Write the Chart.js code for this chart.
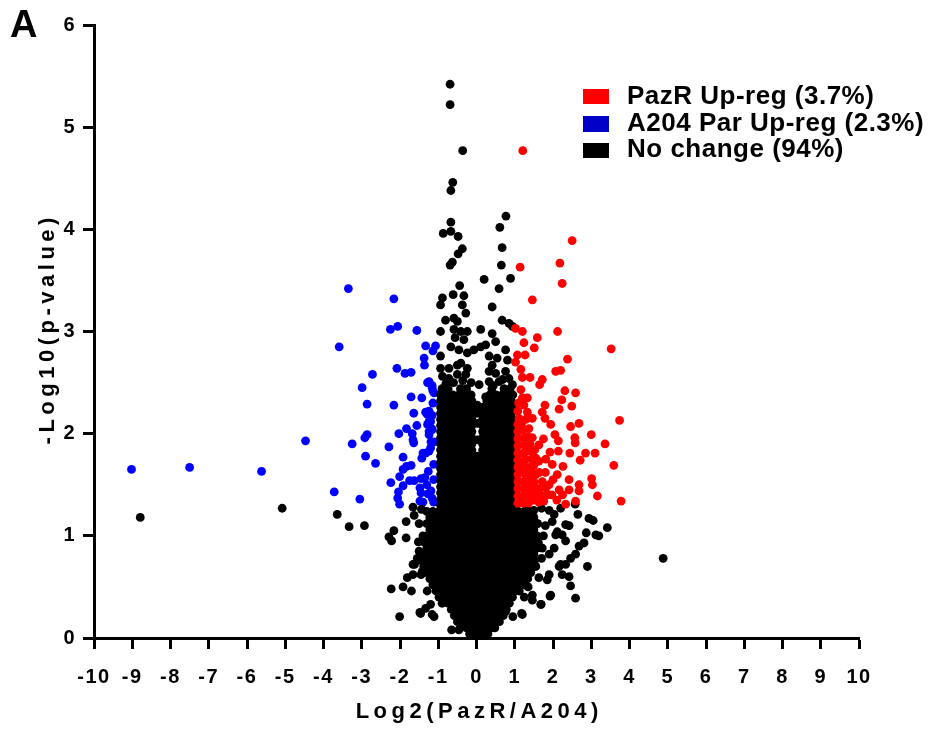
<!DOCTYPE html>
<html><head><meta charset="utf-8">
<script src="https://cdn.jsdelivr.net/npm/chart.js@4.4.1/dist/chart.umd.min.js"></script>
<style>
html,body{margin:0;padding:0;background:#fff;}
#wrap{position:relative;width:933px;height:731px;overflow:hidden;background:#fff;}
#c{position:absolute;left:0;top:0;}
.t{position:absolute;font-family:'Liberation Sans',Arial,sans-serif;font-weight:bold;color:#000;white-space:nowrap;}
#panel{left:10px;top:5px;font-size:38px;line-height:38px;}
#xt{left:277px;width:400px;top:700px;font-size:22px;line-height:22px;letter-spacing:4.5px;text-align:center;padding-left:4.5px;box-sizing:border-box;}
#yt{left:-153px;width:400px;top:320px;height:22px;font-size:22px;line-height:22px;letter-spacing:4.5px;text-align:center;padding-left:4.5px;box-sizing:border-box;transform:rotate(-90deg);transform-origin:50% 50%;}
.sw{position:absolute;left:582.5px;width:26.5px;height:15.5px;}
.lt{left:627px;font-size:26px;line-height:26px;letter-spacing:0.5px;}
</style></head>
<body>
<div id="wrap">
<canvas id="c" width="933" height="731"></canvas>
<div class="t" id="panel">A</div>
<div class="t" id="xt">Log2(PazR/A204)</div>
<div class="t" id="yt">-Log10(p-value)</div>
<div class="sw" style="top:88.5px;background:#ff0000"></div>
<div class="sw" style="top:116px;background:#0000c8"></div>
<div class="sw" style="top:142.5px;background:#000000"></div>
<div class="t lt" style="top:82.3px">PazR Up-reg (3.7%)</div>
<div class="t lt" style="top:109px">A204 Par Up-reg (2.3%)</div>
<div class="t lt" style="top:135.3px">No change (94%)</div>
</div>
<script>
const xTickValues = [-10,-9,-8,-7,-6,-5,-4,-3,-2,-1,0,1,2,3,4,5,6,7,8,9,10];
const yTickValues = [0,1,2,3,4,5,6];

// PazR up-regulated (red)
const redPoints = [
[1.21,4.77],[1.14,3.63],[2.50,3.89],[2.18,3.67],[2.24,3.47],[1.46,3.31],[2.12,3.00],[3.52,2.83],[1.02,3.03],[1.20,3.00],
[1.59,2.94],[1.24,2.89],[1.51,2.84],[1.07,2.77],[1.27,2.77],[1.02,2.70],[2.38,2.73],[2.07,2.61],[2.20,2.62],[1.16,2.63],
[1.20,2.55],[1.40,2.55],[1.72,2.53],[1.65,2.48],[1.16,2.43],[1.20,2.35],[2.31,2.42],[2.59,2.40],[2.23,2.33],[2.16,2.24],
[2.49,2.27],[1.33,2.35],[1.24,2.28],[1.33,2.21],[1.79,2.28],[1.72,2.21],[1.94,2.09],[1.79,2.15],[3.74,2.13],[2.68,2.10],
[2.46,2.07],[1.11,2.15],[1.29,2.14],[1.46,2.15],[1.37,2.05],[1.24,1.96],[1.46,1.96],[1.63,1.89],[1.42,1.83],[2.05,1.99],
[2.14,1.93],[2.57,1.96],[2.58,1.91],[3.00,1.99],[3.36,1.90],[2.14,1.83],[2.44,1.81],[2.85,1.81],[3.10,1.81],[2.71,1.74],
[3.59,1.69],[2.26,1.68],[1.98,1.70],[1.81,1.75],[1.63,1.73],[2.42,1.55],[2.68,1.50],[3.01,1.56],[3.03,1.50],[3.16,1.39],
[3.78,1.34],[2.11,1.60],[1.90,1.50],[2.16,1.45],[1.97,1.40],[2.10,1.35],[2.42,1.45],[2.68,1.44],[2.33,1.31],[2.59,1.34],
[1.55,1.60],[1.72,1.53],[1.55,1.47],[1.68,1.40],[1.37,1.40],[1.50,1.35],[1.63,1.33],[1.20,1.37],[1.29,1.47],[1.37,1.57],
[1.20,1.63],[1.55,1.76],[1.37,1.83],
[1.08,1.32],[1.22,1.32],[1.36,1.32],[1.08,1.39],[1.22,1.39],[1.50,1.40],[1.08,1.46],[1.22,1.46],[1.42,1.46],[1.64,1.46],
[1.08,1.53],[1.22,1.53],[1.36,1.51],[1.50,1.53],[1.08,1.60],[1.28,1.60],[1.46,1.62],[1.64,1.62],[1.08,1.67],[1.22,1.69],
[1.36,1.67],[1.50,1.69],[1.08,1.74],[1.28,1.75],[1.44,1.75],[1.08,1.81],[1.22,1.81],[1.52,1.84],[1.08,1.88],[1.24,1.89],
[1.40,1.90],[1.08,1.95],[1.34,1.97],[1.08,2.02],[1.22,2.04],[1.08,2.09],[1.18,2.10],[1.08,2.22],[1.10,2.30],[1.80,1.62],
[1.86,1.40],[1.82,1.47],[1.76,1.34],[2.25,1.40],[2.00,1.55],[1.92,1.82],[1.75,1.95]
];

// A204 Par up-regulated (blue)
const bluePoints = [
[-3.35,3.42],[-2.16,3.32],[-2.25,3.02],[-2.06,3.05],[-1.56,3.01],[-3.59,2.85],[-1.33,2.86],[-1.07,2.86],[-1.14,2.81],[-1.37,2.74],
[-1.36,2.67],[-2.72,2.58],[-2.08,2.64],[-1.87,2.59],[-1.71,2.60],[-2.99,2.45],[-1.28,2.50],[-1.16,2.47],[-1.14,2.42],[-2.86,2.29],
[-2.16,2.28],[-1.71,2.36],[-1.43,2.35],[-1.64,2.20],[-1.33,2.21],[-1.24,2.12],[-1.16,2.18],[-1.56,2.08],[-1.83,2.05],[-2.03,2.00],
[-1.68,2.00],[-1.66,1.94],[-1.64,1.91],[-1.28,2.09],[-1.24,2.02],[-1.17,2.05],[-1.19,1.92],[-4.47,1.93],[-3.25,1.90],[-2.92,1.96],
[-2.86,1.99],[-2.29,1.87],[-1.92,1.77],[-2.90,1.78],[-2.64,1.71],[-1.71,1.69],[-1.43,1.76],[-1.40,1.81],[-1.24,1.83],[-1.92,1.65],
[-2.01,1.58],[-2.24,1.52],[-1.75,1.54],[-1.63,1.54],[-1.45,1.56],[-1.35,1.57],[-1.48,1.47],[-2.04,1.43],[-2.06,1.37],[-2.01,1.31],
[-1.48,1.34],[-1.26,1.63],[-1.19,1.44],[-1.16,1.37],[-9.02,1.65],[-7.50,1.67],[-5.62,1.63],[-3.72,1.43],[-3.05,1.36],[-1.24,2.51],
[-1.16,2.45],[-1.11,2.40],[-1.29,2.19],[-1.24,2.22],[-1.20,2.12],[-1.16,2.04],[-1.24,1.99],[-1.11,1.92],[-1.20,1.86],[-1.33,1.81],
[-1.83,1.68],[-1.92,1.49],[-1.45,1.42],[-1.27,1.41],[-1.12,1.33],[-1.40,1.33],[-1.12,1.55],[-1.12,1.70],[-1.14,2.30],[-1.30,1.50]
];

// No change (black) - scattered points
const blackPoints = [
[-0.69,5.42],[-0.69,5.22],[-0.36,4.77],[-0.62,4.46],[-0.67,4.38],[-0.67,4.07],[-0.87,3.96],[-0.67,3.98],[-0.48,3.93],[-0.37,3.81],
[-0.48,3.76],[-0.69,3.65],[-0.63,3.68],[0.77,4.13],[0.61,4.02],[0.67,3.82],[0.65,3.65],
[-0.44,3.45],[0.20,3.51],[0.89,3.52],[0.59,3.42],[-0.61,3.36],[-0.33,3.35],[-0.89,3.33],[-0.94,3.26],[-0.37,3.26],[-0.28,3.18],
[0.41,3.24],[-0.81,3.11],[-0.59,3.13],[-0.50,3.10],[0.67,3.11],[0.85,3.08],[0.94,3.05],
[-0.94,3.00],[-0.59,3.02],[-0.41,3.00],[-0.24,3.00],[-0.56,2.94],[-0.33,2.92],[-0.67,2.85],[-0.46,2.82],[0.11,3.02],[0.41,2.98],
[0.50,2.90],[0.24,2.87],[0.11,2.85],[0.76,2.82],[-0.07,2.82],[-0.24,2.79],[-0.94,2.76],[0.33,2.76],[0.54,2.74],[0.81,2.72],[0.41,2.67],
[-0.94,2.64],[-0.72,2.64],[-0.50,2.67],[-0.41,2.69],[-0.24,2.64],[-0.28,2.58],[-0.50,2.58],[-0.72,2.54],[-0.89,2.56],[0.33,2.61],
[0.50,2.59],[0.76,2.61],[0.85,2.54],[0.59,2.51],[0.33,2.51],[0.94,2.48],[0.07,2.48],[0.24,2.36],[0.02,2.28],
[-0.60,2.50],[-0.36,2.52],[-0.14,2.50],[0.44,2.47],[0.68,2.53],[-0.80,2.49],[0.03,2.10],[0.04,1.94],
[-8.79,1.18],[-5.08,1.27],[-3.64,1.21],[-3.33,1.09],[-2.93,1.10],[-2.16,1.05],[-2.29,0.99],[-2.22,0.95],[-1.84,0.98],[-1.66,1.28],
[-1.63,1.20],[-1.84,1.14],[-1.66,0.72],[-1.81,0.59],[-1.92,0.50],[-2.23,0.48],[-1.70,0.46],[-2.01,0.21],[-1.48,0.25],[-1.11,0.21],
[-1.50,0.85],[-1.55,0.78],[-1.42,0.65],[-1.29,0.46],[-1.20,0.33],[-1.62,0.72],[-1.66,0.62],[-1.45,0.62],[-1.45,0.78],[-1.46,0.24],
[-1.33,0.29],[-1.16,0.23],[-0.65,0.08],[-0.46,0.08],
[2.58,1.31],[2.65,1.21],[2.94,1.17],[3.05,1.15],[3.42,1.08],[3.20,1.00],[3.12,1.01],[2.87,1.03],[2.33,1.11],[2.42,1.10],
[2.11,1.04],[2.24,1.01],[1.98,1.14],[2.03,1.21],[4.88,0.78],[2.81,0.93],[2.68,0.90],[2.59,0.82],[2.46,0.78],[2.33,0.72],
[2.20,0.72],[2.90,0.70],[2.16,0.70],[2.24,0.62],[2.42,0.60],[1.90,0.62],[1.85,0.57],[1.63,0.59],[2.46,0.51],[2.59,0.39],
[1.94,0.42],[1.68,0.33],[1.46,0.42],[1.46,0.37],[1.20,0.23],[2.03,0.88],[1.72,0.88],[2.07,1.01],[2.33,0.95],[1.90,0.82],
[1.18,0.24],[0.95,0.21],[0.76,0.26],[1.69,0.33],[1.92,0.41],
[1.30,1.25],[1.50,1.25],[1.70,1.27],[1.90,1.25],[2.20,1.27],[1.60,1.12],[1.80,1.10],[1.75,1.00],[1.62,0.93],[1.70,0.78],
[1.55,0.70],[1.35,0.50],[1.25,0.40],[-1.44,1.26],[-1.50,1.12],[-1.40,1.00],[-1.52,0.94]
];

// No change (black) - dense core, read row by row: [y, [x positions]]
const blackCoreRows = [
[0.04,[-0.18,-0.02,0.14,0.30]],
[0.10,[-0.42,-0.26,-0.10,0.06,0.22,0.38,0.48]],
[0.16,[-0.50,-0.34,-0.18,-0.02,0.14,0.30,0.46,0.60]],
[0.22,[-0.58,-0.42,-0.26,-0.10,0.06,0.22,0.38,0.54,0.70]],
[0.28,[-0.66,-0.50,-0.34,-0.18,-0.02,0.14,0.30,0.46,0.62,0.78]],
[0.34,[-0.90,-0.74,-0.58,-0.42,-0.26,-0.10,0.06,0.22,0.38,0.54,0.70,0.86]],
[0.40,[-0.98,-0.82,-0.66,-0.50,-0.34,-0.18,-0.02,0.14,0.30,0.46,0.62,0.78,0.94]],
[0.46,[-1.06,-0.90,-0.74,-0.58,-0.42,-0.26,-0.10,0.06,0.22,0.38,0.54,0.70,0.86,1.02,1.12]],
[0.52,[-1.14,-0.98,-0.82,-0.66,-0.50,-0.34,-0.18,-0.02,0.14,0.30,0.46,0.62,0.78,0.94,1.10,1.26]],
[0.58,[-1.22,-1.06,-0.90,-0.74,-0.58,-0.42,-0.26,-0.10,0.06,0.22,0.38,0.54,0.70,0.86,1.02,1.18,1.34]],
[0.64,[-1.30,-1.14,-0.98,-0.82,-0.66,-0.50,-0.34,-0.18,-0.02,0.14,0.30,0.46,0.62,0.78,0.94,1.10,1.26,1.42]],
[0.70,[-1.38,-1.22,-1.06,-0.90,-0.74,-0.58,-0.42,-0.26,-0.10,0.06,0.22,0.38,0.54,0.70,0.86,1.02,1.18,1.34,1.50]],
[0.76,[-1.46,-1.30,-1.14,-0.98,-0.82,-0.66,-0.50,-0.34,-0.18,-0.02,0.14,0.30,0.46,0.62,0.78,0.94,1.10,1.26,1.42,1.52]],
[0.82,[-1.38,-1.22,-1.06,-0.90,-0.74,-0.58,-0.42,-0.26,-0.10,0.06,0.22,0.38,0.54,0.70,0.86,1.02,1.18,1.34,1.50]],
[0.88,[-1.30,-1.14,-0.98,-0.82,-0.66,-0.50,-0.34,-0.18,-0.02,0.14,0.30,0.46,0.62,0.78,0.94,1.10,1.26,1.42,1.58]],
[0.94,[-1.38,-1.22,-1.06,-0.90,-0.74,-0.58,-0.42,-0.26,-0.10,0.06,0.22,0.38,0.54,0.70,0.86,1.02,1.18,1.34,1.50]],
[1.00,[-1.30,-1.14,-0.98,-0.82,-0.66,-0.50,-0.34,-0.18,-0.02,0.14,0.30,0.46,0.62,0.78,0.94,1.10,1.26,1.42,1.58]],
[1.06,[-1.22,-1.06,-0.90,-0.74,-0.58,-0.42,-0.26,-0.10,0.06,0.22,0.38,0.54,0.70,0.86,1.02,1.18,1.34,1.50]],
[1.12,[-1.30,-1.14,-0.98,-0.82,-0.66,-0.50,-0.34,-0.18,-0.02,0.14,0.30,0.46,0.62,0.78,0.94,1.10,1.26,1.42,1.58]],
[1.18,[-1.22,-1.06,-0.90,-0.74,-0.58,-0.42,-0.26,-0.10,0.06,0.22,0.38,0.54,0.70,0.86,1.02,1.18,1.34,1.50]],
[1.24,[-1.30,-1.14,-0.98,-0.82,-0.66,-0.50,-0.34,-0.18,-0.02,0.14,0.30,0.46,0.62,0.78,0.94,1.10,1.26,1.42]],
[1.30,[-0.94,-0.78,-0.62,-0.46,-0.30,-0.14,0.02,0.18,0.34,0.50,0.66,0.82,0.95]],
[1.36,[-0.94,-0.86,-0.70,-0.54,-0.38,-0.22,-0.06,0.10,0.26,0.42,0.58,0.74,0.90]],
[1.42,[-0.94,-0.78,-0.62,-0.46,-0.30,-0.14,0.02,0.18,0.34,0.50,0.66,0.82,0.95]],
[1.48,[-0.94,-0.86,-0.70,-0.54,-0.38,-0.22,-0.06,0.10,0.26,0.42,0.58,0.74,0.90]],
[1.54,[-0.94,-0.78,-0.62,-0.46,-0.30,-0.14,0.02,0.18,0.34,0.50,0.66,0.82,0.95]],
[1.60,[-0.94,-0.86,-0.70,-0.54,-0.38,-0.22,-0.06,0.10,0.26,0.42,0.58,0.74,0.90]],
[1.66,[-0.94,-0.78,-0.62,-0.46,-0.30,-0.14,0.02,0.18,0.34,0.50,0.66,0.82,0.95]],
[1.72,[-0.94,-0.86,-0.70,-0.54,-0.38,-0.22,-0.06,0.10,0.26,0.42,0.58,0.74,0.90]],
[1.78,[-0.94,-0.78,-0.62,-0.46,-0.30,-0.14,0.02,0.18,0.34,0.50,0.66,0.82,0.95]],
[1.84,[-0.94,-0.86,-0.70,-0.54,-0.38,-0.22,-0.12,0.16,0.27,0.43,0.59,0.75,0.91]],
[1.90,[-0.94,-0.78,-0.62,-0.46,-0.30,-0.12,0.16,0.35,0.51,0.67,0.83,0.95]],
[1.96,[-0.94,-0.86,-0.70,-0.54,-0.38,-0.22,-0.12,0.16,0.27,0.43,0.59,0.75,0.91]],
[2.02,[-0.94,-0.78,-0.62,-0.46,-0.30,-0.12,0.16,0.35,0.51,0.67,0.83,0.95]],
[2.08,[-0.94,-0.86,-0.70,-0.54,-0.38,-0.22,-0.12,0.16,0.27,0.43,0.59,0.75,0.91]],
[2.14,[-0.94,-0.78,-0.62,-0.46,-0.30,-0.12,0.16,0.35,0.51,0.67,0.83,0.95]],
[2.20,[-0.94,-0.86,-0.70,-0.54,-0.38,-0.22,-0.12,0.02,0.16,0.27,0.43,0.59,0.75,0.91]],
[2.26,[-0.94,-0.78,-0.62,-0.46,-0.30,-0.12,0.16,0.35,0.51,0.67,0.83,0.95]],
[2.32,[-0.94,-0.86,-0.70,-0.54,-0.38,-0.22,-0.12,0.27,0.43,0.59,0.75,0.91]],
[2.38,[-0.94,-0.78,-0.62,-0.46,-0.30,-0.14,0.35,0.51,0.67,0.83,0.95]],
[2.44,[-0.90,-0.74,-0.42,-0.26,0.40,0.72,0.88]]
];

const toXY = arr => arr.map(p => ({x: p[0], y: p[1]}));
const blackData = toXY(blackPoints);
blackCoreRows.forEach(r => r[1].forEach(x => blackData.push({x: x, y: r[0]})));

const tickFont = {family: "'Liberation Sans', Arial, sans-serif", weight: 'bold', size: 20};
const spacingPlugin = {
  id: 'spacing',
  beforeDraw(chart) { chart.ctx.letterSpacing = '1.5px'; },
  afterDraw(chart) { chart.ctx.letterSpacing = '0px'; }
};
const R = 4.4;
new Chart(document.getElementById('c'), {
  type: 'scatter',
  data: {
    datasets: [
      {label: 'PazR Up-reg (3.7%)', data: toXY(redPoints), backgroundColor: '#ff0000', borderWidth: 0, pointRadius: R, pointHoverRadius: R},
      {label: 'No change (94%)', data: blackData, backgroundColor: '#000000', borderWidth: 0, pointRadius: R, pointHoverRadius: R},
      {label: 'A204 Par Up-reg (2.3%)', data: toXY(bluePoints), backgroundColor: '#0000ff', borderWidth: 0, pointRadius: R, pointHoverRadius: R}
    ]
  },
  options: {
    responsive: false,
    animation: false,
    events: [],
    layout: {padding: {top: 25, right: 74, left: 0, bottom: 0}},
    plugins: {legend: {display: false}, tooltip: {enabled: false}},
    scales: {
      x: {
        type: 'linear', min: -10, max: 10,
        afterBuildTicks: s => { s.ticks = xTickValues.map(v => ({value: v})); },
        afterFit: s => { s.height = 93; },
        ticks: {font: tickFont, color: '#000', padding: 16, autoSkip: false, maxRotation: 0, minRotation: 0},
        grid: {drawOnChartArea: false, drawTicks: true, tickLength: 11, tickWidth: 3, tickColor: '#000'},
        border: {display: true, width: 3, color: '#000'}
      },
      y: {
        type: 'linear', min: 0, max: 6,
        afterBuildTicks: s => { s.ticks = yTickValues.map(v => ({value: v})); },
        afterFit: s => { s.width = 94; },
        ticks: {font: tickFont, color: '#000', padding: 7},
        grid: {drawOnChartArea: false, drawTicks: true, tickLength: 11, tickWidth: 3, tickColor: '#000'},
        border: {display: true, width: 3, color: '#000'}
      }
    }
  },
  plugins: [spacingPlugin]
});
</script>
</body></html>
